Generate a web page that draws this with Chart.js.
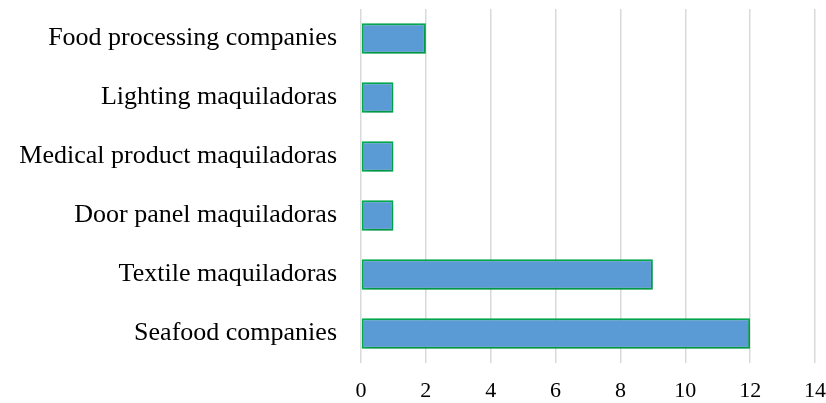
<!DOCTYPE html>
<html>
<head>
<meta charset="utf-8">
<script src="https://cdn.jsdelivr.net/npm/chart.js@4"></script>
<style>
    html, body { margin: 0; padding: 0; background: #fff; }
    #wrap { width: 826px; height: 403px; }
</style>
</head>
<body>
<div id="wrap"><canvas id="barChart"></canvas></div>
<script>
//分类与数值
var categories = ["Food processing companies", "Lighting maquiladoras", "Medical product maquiladoras",
    "Door panel maquiladoras", "Textile maquiladoras", "Seafood companies"];
var counts = [2, 1, 1, 1, 9, 12];
var tickMin = 0;
var tickMax = 14;
var tickStep = 2;

//柱子阴影
var shadowPlugin = {
    id: "barShadow",
    beforeDatasetsDraw: function (chart) {
        var ctx = chart.ctx;
        ctx.save();
        ctx.shadowColor = "rgba(0,0,0,0.22)";
        ctx.shadowBlur = 7;
        ctx.shadowOffsetX = 2;
        ctx.shadowOffsetY = 2;
    },
    afterDatasetsDraw: function (chart) {
        chart.ctx.restore();
    }
};

var barChartCanvas = document.getElementById("barChart").getContext("2d");
new Chart(barChartCanvas, {
    type: "bar",
    data: {
        labels: categories,
        datasets: [
            {
                data: counts,
                backgroundColor: "#5B9BD5",
                borderColor: "#00B050",
                borderWidth: 2,
                borderSkipped: false,
                categoryPercentage: 0.52,
                barPercentage: 1.0
            }
        ]
    },
    options: {
        indexAxis: "y",
        responsive: true,
        maintainAspectRatio: false,
        animation: false,
        layout: { padding: { top: 9, right: 0, left: 8, bottom: 0 } },
        plugins: {
            legend: { display: false },
            tooltip: { enabled: false }
        },
        scales: {
            x: {
                min: tickMin,
                max: tickMax,
                afterFit: function (scale) {
                    scale.height = 40;
                    scale.paddingLeft = 0;
                    scale.paddingRight = 11;
                    scale.paddingTop = 0;
                    scale.paddingBottom = 0;
                },
                ticks: {
                    stepSize: tickStep,
                    color: "#000",
                    padding: 15,
                    font: { family: "Liberation Serif", size: 22 }
                },
                grid: { color: "#D9D9D9", lineWidth: 1.5, drawTicks: false },
                border: { display: false }
            },
            y: {
                afterFit: function (scale) {
                    scale.width = 353;
                    scale.paddingTop = 0;
                    scale.paddingBottom = 0;
                },
                ticks: {
                    color: "#000",
                    padding: 24,
                    font: { family: "Liberation Serif", size: 26 }
                },
                grid: { display: false, drawTicks: false },
                border: { display: false }
            }
        }
    },
    plugins: [shadowPlugin]
});
</script>
</body>
</html>
